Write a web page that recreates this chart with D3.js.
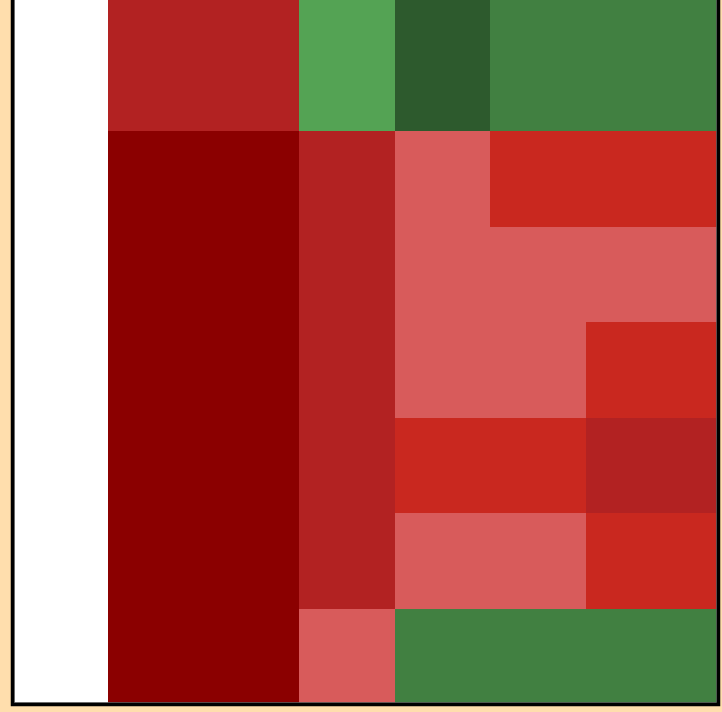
<!DOCTYPE html>
<html>
<head>
<meta charset="utf-8">
<script src="https://cdn.jsdelivr.net/npm/d3@7"></script>
<style>
  html, body { margin: 0; padding: 0; background: #FFDEAD; overflow: hidden; }
</style>
</head>
<body>
<div id="chart"></div>
<script>
// grid categories
var rows = ["r0", "r1", "r2", "r3", "r4", "r5", "r6", "r7"];
var cols = ["c0", "c1", "c2", "c3", "c4", "c5", "c6", "c7"];

// change levels per row (c0 is the empty label column)
var r0 = [null, -3, -3, 1, 3, 2, 2, 2];
var r1 = [null, -3, -3, 1, 3, 2, 2, 2];
var r2 = [null, -4, -4, -3, -1, -2, -2, -2];
var r3 = [null, -4, -4, -3, -1, -1, -1, -1];
var r4 = [null, -4, -4, -3, -1, -1, -2, -2];
var r5 = [null, -4, -4, -3, -2, -2, -3, -3];
var r6 = [null, -4, -4, -3, -1, -1, -2, -2];
var r7 = [null, -4, -4, -1, 2, 2, 2, 2];
var values = [r0, r1, r2, r3, r4, r5, r6, r7];

var levels = [-4, -3, -2, -1, 1, 2, 3];
var levelColors = ["#8B0000", "#B22222", "#C9281F", "#D85B5B", "#54A354", "#418041", "#2D5A2D"];

var width = 722, height = 712;
var cell = 95.5;
var frame = {left: 12.5, right: 718.5, top: -20, bottom: 704.5};

var cells = [];
values.forEach(function (row, i) {
  row.forEach(function (v, j) {
    cells.push({row: rows[i], col: cols[j], value: v});
  });
});

var x = d3.scaleBand()
  .domain(cols)
  .range([frame.left, frame.left + cell * cols.length]);

var y = d3.scaleBand()
  .domain(rows)
  .range([frame.bottom - 0.5 - cell * rows.length, frame.bottom - 0.5]);

var color = d3.scaleOrdinal()
  .domain(levels)
  .range(levelColors);

var svg = d3.select("#chart").append("svg")
  .attr("width", width)
  .attr("height", height)
  .style("display", "block");

svg.append("clipPath")
  .attr("id", "clip")
  .append("rect")
  .attr("x", frame.left + 1.5)
  .attr("y", frame.top)
  .attr("width", frame.right - frame.left - 3)
  .attr("height", frame.bottom - frame.top - 1.5);

svg.append("rect")
  .attr("x", frame.left)
  .attr("y", frame.top)
  .attr("width", frame.right - frame.left)
  .attr("height", frame.bottom - frame.top)
  .attr("fill", "#fff");

svg.append("g")
  .attr("clip-path", "url(#clip)")
  .attr("shape-rendering", "crispEdges")
  .selectAll("rect")
  .data(cells)
  .enter().append("rect")
  .attr("x", function (d) { return x(d.col); })
  .attr("y", function (d) { return y(d.row); })
  .attr("width", x.bandwidth() + 0.5)
  .attr("height", y.bandwidth() + 0.5)
  .attr("fill", function (d) { return d.value == null ? "#fff" : color(d.value); });

// inner grey line + black frame
svg.append("rect")
  .attr("x", frame.left + 2)
  .attr("y", frame.top)
  .attr("width", frame.right - frame.left - 4)
  .attr("height", frame.bottom - frame.top - 2)
  .attr("fill", "none")
  .attr("stroke", "#777")
  .attr("stroke-width", 0.8);

svg.append("rect")
  .attr("x", frame.left)
  .attr("y", frame.top)
  .attr("width", frame.right - frame.left)
  .attr("height", frame.bottom - frame.top)
  .attr("fill", "none")
  .attr("stroke", "#000")
  .attr("stroke-width", 3.5);
</script>
</body>
</html>
